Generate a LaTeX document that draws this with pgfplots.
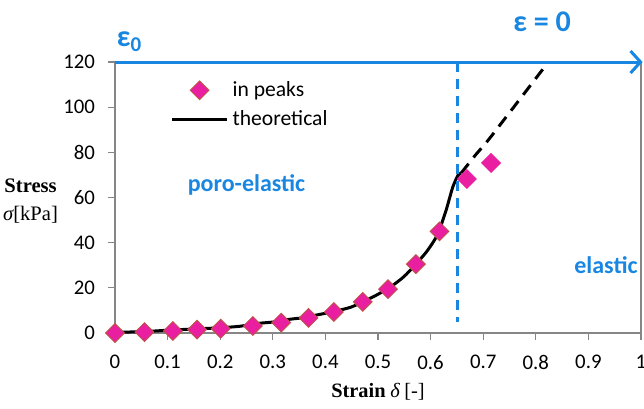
\documentclass[border=0pt]{standalone}
\usepackage{fontspec}
\setmainfont{Carlito}
\newfontfamily\tnr{Liberation Serif}
\usepackage{pgfplots}
\pgfplotsset{compat=1.18}
\usetikzlibrary{arrows.meta}

\definecolor{myblue}{RGB}{25,135,225}
\definecolor{mymag}{RGB}{234,30,160}
\definecolor{myedge}{RGB}{192,80,77}
\definecolor{axgray}{RGB}{134,134,134}

\begin{document}
\begin{tikzpicture}
\begin{axis}[
  name=ax,
  scale only axis,
  width=263pt, height=135.5pt,
  xmin=0, xmax=1, ymin=0, ymax=120,
  xtick={0,0.1,...,1.01}, ytick={0,20,...,120},
  xticklabels={0,0.1,0.2,0.3,0.4,0.5,0.6,0.7,0.8,0.9,1},
  xtick pos=bottom, ytick pos=left,
  tick align=outside, major tick length=3.5pt,
  tick style={axgray, line width=0.6pt},
  axis line style={axgray, line width=0.8pt},
  /pgf/number format/assume math mode=true,
  tick label style={font=\fontsize{10.4}{12}\selectfont},
  xticklabel style={yshift=-4pt},
  yticklabel style={xshift=-3pt},
  xlabel={{\tnr\bfseries Strain} {\tnr\itshape δ} {\tnr [-]}},
  xlabel style={at={(axis description cs:0.5,-0.218)}, anchor=center, font=\fontsize{10.2}{12}\selectfont},
  ylabel={{\tnr\bfseries Stress}\\{\tnr\itshape σ}{\tnr[kPa]}},
  ylabel style={rotate=-90, align=center, at={(axis description cs:-0.095,0.488)}, anchor=east, font=\fontsize{10.3}{14}\selectfont},
  clip=false,
  reverse legend,
  legend style={draw=none, fill=none, at={(axis description cs:0.105,0.945)}, anchor=north west,
    inner sep=0pt, row sep=1.5pt, font=\fontsize{10.8}{12.5}\selectfont,
    /tikz/every even column/.append style={column sep=2pt}},
  legend cell align=left,
  legend image code/.code={\draw[mark repeat=2,mark phase=2] plot coordinates {(0pt,0pt)(13.75pt,0pt)(27.5pt,0pt)};},
]
% theoretical curve
\addplot[black, line width=1.5pt, smooth, tension=0.4] coordinates {
  (0,0.3) (0.054,0.6) (0.098,1.2) (0.162,1.9) (0.200,2.3) (0.238,3.0)
  (0.270,4.2) (0.302,4.9) (0.333,6.1) (0.359,6.8) (0.384,8.0) (0.416,9.5)
  (0.448,11.4) (0.473,14.0) (0.498,16.9) (0.524,20.4) (0.549,24.9)
  (0.571,30.2) (0.594,36.5) (0.613,43.5) (0.629,54) (0.642,64.5)
  (0.652,69.8) (0.658,70.8)
};
\addlegendentry{theoretical}
\addplot[black, line width=1.5pt, dash pattern=on 6pt off 4pt, forget plot] coordinates {
  (0.658,70.8) (0.686,79) (0.705,84.1) (0.715,87) (0.756,99.4) (0.819,118.5)
};
% measured peaks
\addplot[only marks, mark=square*, mark size=3.3pt,
  mark options={rotate=45, fill=mymag, draw=myedge, line width=0.5pt}] coordinates {
  (0,0) (0.056,0.4) (0.110,0.9) (0.156,1.5) (0.201,1.9) (0.262,3.1)
  (0.316,4.6) (0.368,6.7) (0.416,9.3) (0.471,13.8) (0.519,19.4)
  (0.572,30.5) (0.617,45.0)
};
\addlegendentry{in peaks}
\addplot[only marks, mark=square*, mark size=3.3pt, forget plot,
  mark options={rotate=45, fill=mymag, draw=mymag, line width=0.5pt}] coordinates {
  (0.669,68.2) (0.715,75.3)
};
% blue annotations
\draw[myblue, line width=1.5pt, dash pattern=on 5pt off 3.5pt] (axis cs:0.651,120) -- (axis cs:0.651,5);
\draw[myblue, line width=1.5pt, -{Straight Barb[length=5pt,width=11pt,line width=1.5pt]}] (axis cs:0,120) -- (axis cs:1.003,120);
\node[myblue, font=\bfseries\fontsize{12}{14}\selectfont] at (axis cs:0.25,65.5) {poro-elastic};
\node[myblue, font=\bfseries\fontsize{12}{14}\selectfont, anchor=east] at (axis cs:1.007,30) {elastic};
\node[myblue, font=\bfseries\fontsize{15}{18}\selectfont, anchor=west] at (axis cs:-0.01,129) {ε\textsubscript{0}};
\node[myblue, font=\bfseries\fontsize{15}{18}\selectfont] at (axis cs:0.812,138) {ε = 0};
\end{axis}
\pgfresetboundingbox
\path[use as bounding box] ([shift={(-57.5pt,-37.5pt)}]ax.south west) rectangle ([shift={(1.5pt,31pt)}]ax.north east);
\end{tikzpicture}
\end{document}
